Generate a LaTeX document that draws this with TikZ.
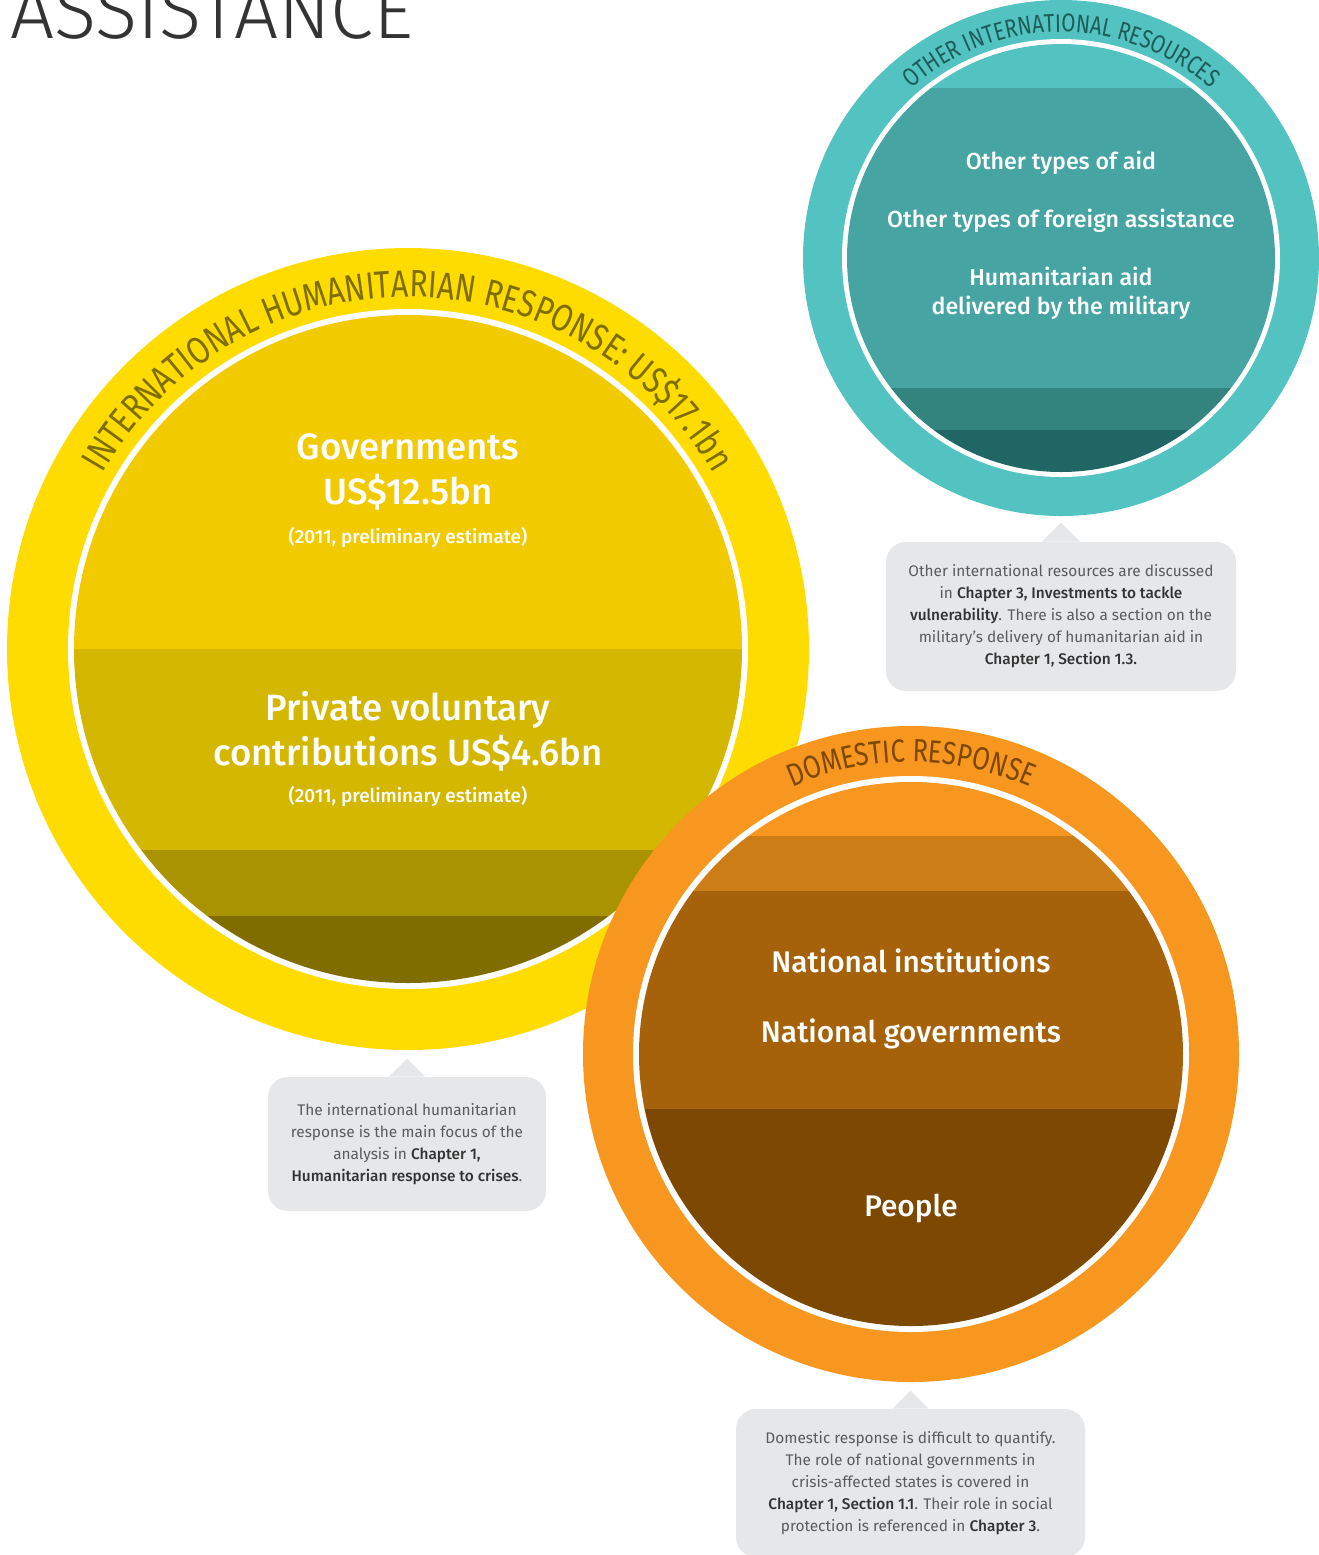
\documentclass[tikz,border=0pt]{standalone}
\usepackage{fontspec}
\setmainfont{Fira Sans}
\newfontfamily\ringfont{Fira Sans}[FakeStretch=0.8]
\newfontfamily\medfont{Fira Sans Medium}
\newfontfamily\lightfont{Fira Sans Light}
\usetikzlibrary{decorations.text}

\definecolor{ihrring}{HTML}{FFDC00}
\definecolor{ihrgov}{HTML}{F2CA00}
\definecolor{ihrpriv}{HTML}{D4B700}
\definecolor{ihrthird}{HTML}{A99300}
\definecolor{ihrlow}{HTML}{7F6D00}
\definecolor{oirring}{HTML}{52C3C1}
\definecolor{oirmain}{HTML}{46A4A3}
\definecolor{oirthird}{HTML}{33837F}
\definecolor{oirlow}{HTML}{1F6664}
\definecolor{oirtext}{HTML}{1E5C5A}
\definecolor{domring}{HTML}{F7971F}
\definecolor{domsecond}{HTML}{CD7D15}
\definecolor{dommain}{HTML}{A5620A}
\definecolor{domlow}{HTML}{7D4801}
\definecolor{notegray}{HTML}{E6E7E8}
\definecolor{notetext}{HTML}{5A5B5D}
\definecolor{notedark}{HTML}{333333}
\definecolor{titlegray}{HTML}{333333}

\newcommand{\chap}[1]{\textcolor{notedark}{\medfont #1}}

\begin{document}
\begin{tikzpicture}[x=0.5pt, y=0.5pt,
    bandlabel/.style={text=white, align=center, inner sep=0pt},
    note/.style={fill=notegray, rounded corners=10pt, align=center, text=notetext,
        font=\fontsize{7.7}{11}\selectfont, inner sep=0pt},
    pointer/.style={fill=notegray}]
    \useasboundingbox (0,0) rectangle (1319,-1555);

    \coordinate (ihr) at (408,-649);
    \coordinate (oir) at (1061,-258);
    \coordinate (dom) at (911,-1054);

    \node[anchor=base west, inner sep=0pt, text=titlegray,
        font=\lightfont\fontsize{39}{42}\selectfont] (title) at (10,-38) {ASSISTANCE};

    % international humanitarian response
    \fill[ihrring] (ihr) circle[radius=401];
    \fill[white] (ihr) circle[radius=340];
    \begin{scope}
        \clip (ihr) circle[radius=334];
        \fill[ihrgov] (70,-300) rectangle (750,-649);
        \fill[ihrpriv] (70,-649) rectangle (750,-850);
        \fill[ihrthird] (70,-850) rectangle (750,-916);
        \fill[ihrlow] (70,-916) rectangle (750,-990);
    \end{scope}
    \path[decorate, decoration={text along path, text align=center,
        text={|\ringfont\fontsize{19}{21}\selectfont\color{ihrlow}|INTERNATIONAL HUMANITARIAN RESPONSE: US{\$}17.1bn}}]
        ([shift={(178:352)}]ihr) arc[start angle=178, end angle=2, radius=352];
    \node[bandlabel, font=\medfont\fontsize{18.3}{22.5}\selectfont] (gov) at (408,-472) {Governments\\US\$12.5bn};
    \node[bandlabel, font=\medfont\fontsize{9.5}{11}\selectfont] (govyear) at (408,-537) {(2011, preliminary estimate)};
    \node[bandlabel, font=\medfont\fontsize{18.3}{22.5}\selectfont] (priv) at (408,-731) {Private voluntary\\contributions US\$4.6bn};
    \node[bandlabel, font=\medfont\fontsize{9.5}{11}\selectfont] (privyear) at (408,-796) {(2011, preliminary estimate)};

    % other international resources
    \fill[oirring] (oir) circle[radius=258];
    \fill[white] (oir) circle[radius=219];
    \begin{scope}
        \clip (oir) circle[radius=214];
        \fill[oirring] (840,-40) rectangle (1280,-88);
        \fill[oirmain] (840,-88) rectangle (1280,-388);
        \fill[oirthird] (840,-388) rectangle (1280,-430);
        \fill[oirlow] (840,-430) rectangle (1280,-480);
    \end{scope}
    \path[decorate, decoration={text along path, text align=center,
        text={|\ringfont\fontsize{12.8}{14}\selectfont\color{oirtext}|OTHER INTERNATIONAL RESOURCES}}]
        ([shift={(170:226)}]oir) arc[start angle=170, end angle=10, radius=226];
    \node[bandlabel, font=\medfont\fontsize{11.6}{14.5}\selectfont] (aid) at (1061,-163) {Other types of aid};
    \node[bandlabel, font=\medfont\fontsize{11.6}{14.5}\selectfont] (foreign) at (1061,-221) {Other types of foreign assistance};
    \node[bandlabel, font=\medfont\fontsize{11.6}{14.5}\selectfont] (military) at (1061,-293) {Humanitarian aid\\delivered by the military};

    % domestic response
    \fill[domring] (dom) circle[radius=328];
    \fill[white] (dom) circle[radius=278];
    \begin{scope}
        \clip (dom) circle[radius=272];
        \fill[domring] (630,-780) rectangle (1190,-836);
        \fill[domsecond] (630,-836) rectangle (1190,-891);
        \fill[dommain] (630,-891) rectangle (1190,-1109);
        \fill[domlow] (630,-1109) rectangle (1190,-1330);
    \end{scope}
    \path[decorate, decoration={text along path, text align=center,
        text={|\ringfont\fontsize{16}{18}\selectfont\color{domlow}|DOMESTIC RESPONSE}}]
        ([shift={(170:292)}]dom) arc[start angle=170, end angle=10, radius=292];
    \node[bandlabel, font=\medfont\fontsize{14.9}{17}\selectfont] (natinst) at (911,-961) {National institutions};
    \node[bandlabel, font=\medfont\fontsize{14.9}{17}\selectfont] (natgov) at (911,-1034) {National governments};
    \node[bandlabel, font=\medfont\fontsize{14.9}{17}\selectfont] (people) at (911,-1208) {People};

    % notes
    \node[note, minimum width=175pt, minimum height=74.5pt] (oirnote) at (1061,-616.5)
        {Other international resources are discussed\\
         in \chap{Chapter 3, Investments to tackle}\\
         \chap{vulnerability}. There is also a section on the\\
         military’s delivery of humanitarian aid in\\
         \chap{Chapter 1, Section 1.3.}};
    \fill[pointer] ([xshift=-9.5pt]oirnote.north) -- ([yshift=9.5pt]oirnote.north) -- ([xshift=9.5pt]oirnote.north) -- cycle;

    \node[note, minimum width=139pt, minimum height=67pt] (ihrnote) at (407,-1144)
        {The international humanitarian\\
         response is the main focus of the\\
         analysis in \chap{Chapter 1,}\\
         \chap{Humanitarian response to crises}.};
    \fill[pointer] ([xshift=-9pt]ihrnote.north) -- ([yshift=9pt]ihrnote.north) -- ([xshift=9pt]ihrnote.north) -- cycle;

    \node[note, minimum width=174.5pt, minimum height=74pt] (domnote) at (910.5,-1483)
        {Domestic response is difficult to quantify.\\
         The role of national governments in\\
         crisis-affected states is covered in\\
         \chap{Chapter 1, Section 1.1}. Their role in social\\
         protection is referenced in \chap{Chapter 3}.};
    \fill[pointer] ([xshift=-9pt]domnote.north) -- ([yshift=9pt]domnote.north) -- ([xshift=9pt]domnote.north) -- cycle;
\end{tikzpicture}
\end{document}
